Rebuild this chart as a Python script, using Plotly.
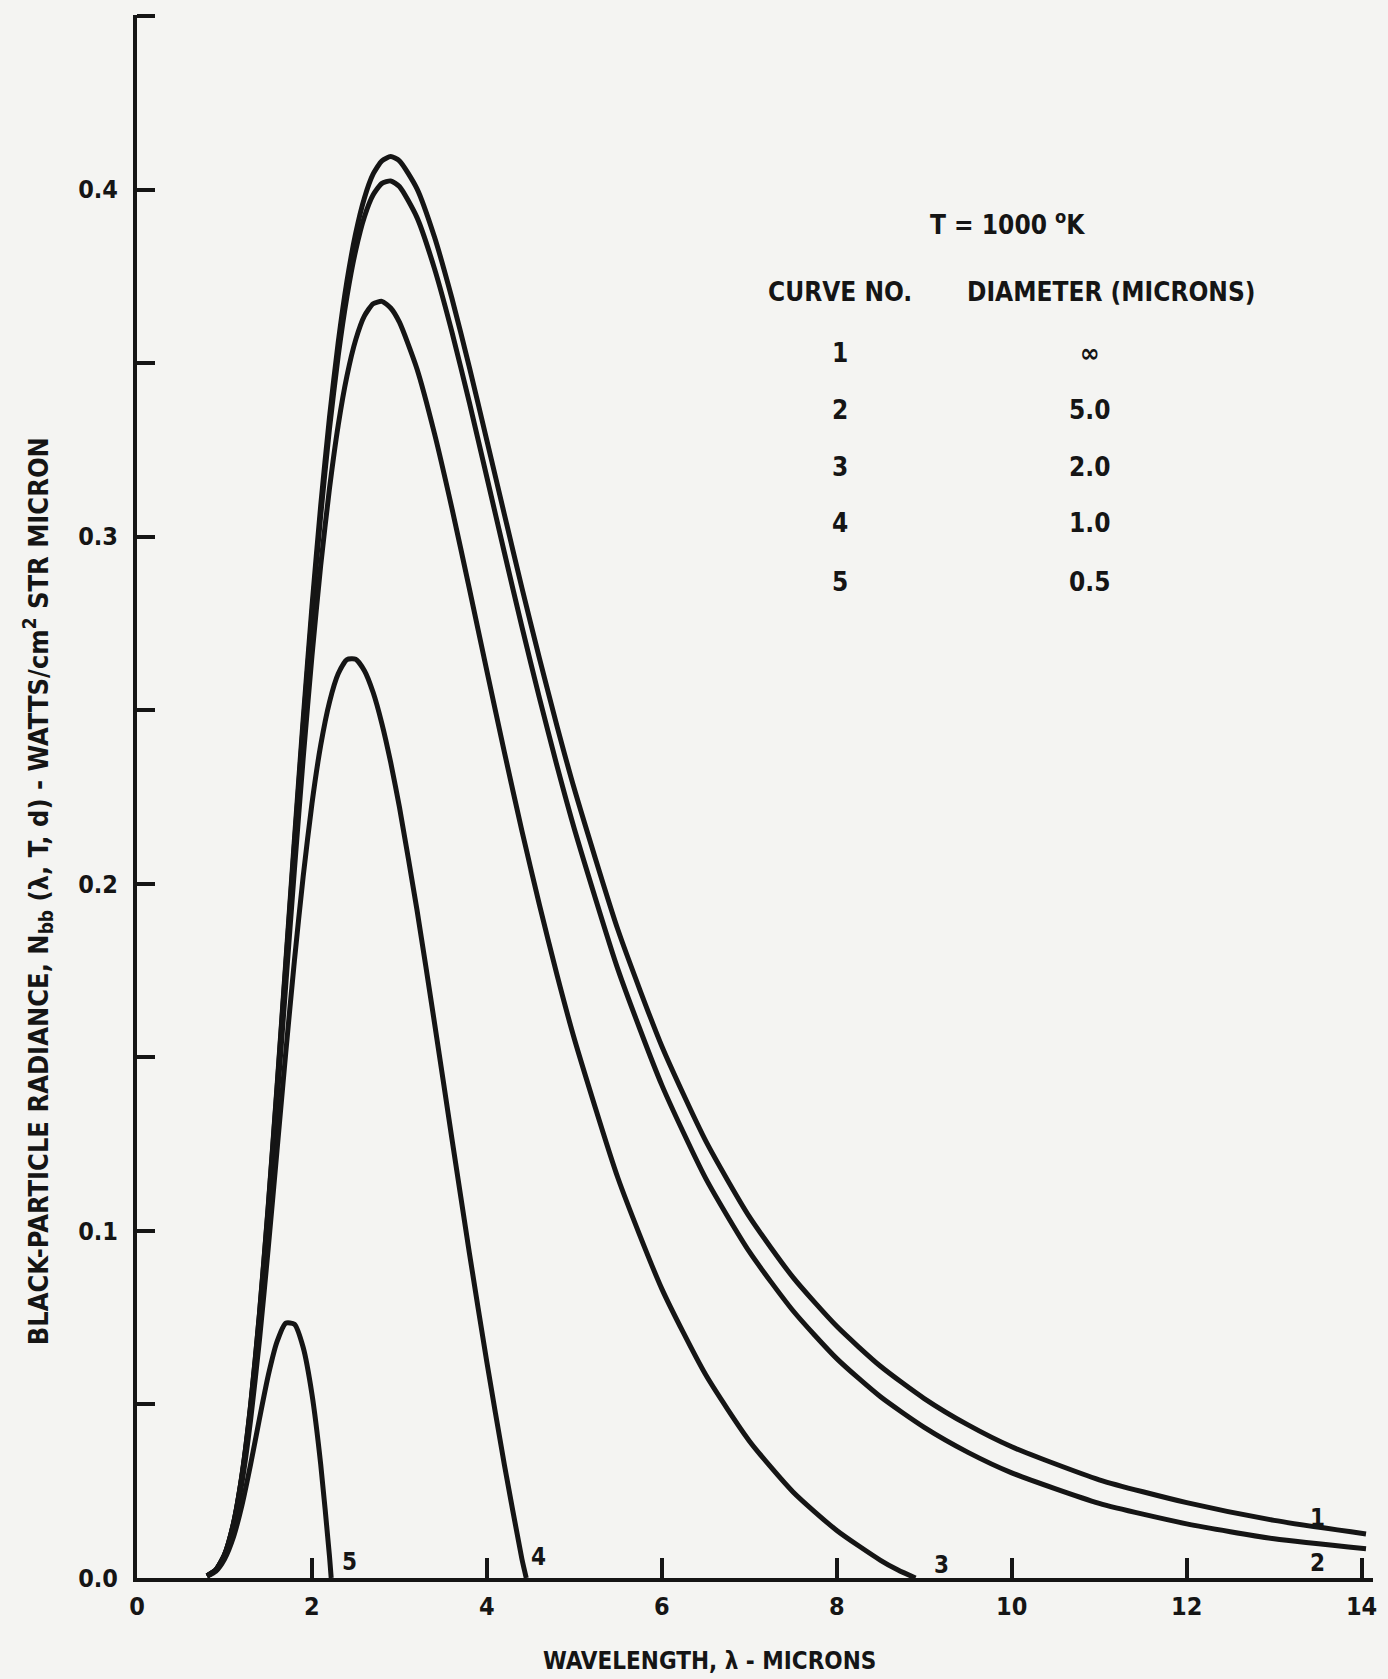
import plotly.graph_objects as go

# ---------------- data ----------------
# wavelength (microns) and black-particle radiance (W/cm^2 sr micron)
wl_12 = [0.8, 0.9, 1.0, 1.1, 1.2, 1.3, 1.4, 1.5, 1.6, 1.7, 1.8, 1.9, 2.0, 2.1, 2.2,
         2.3, 2.4, 2.5, 2.6, 2.7, 2.8, 2.9, 3.0, 3.2, 3.4, 3.6, 3.8, 4.0, 4.2, 4.4,
         4.6, 4.8, 5.0, 5.5, 6.0, 6.5, 7.0, 7.5, 8.0, 8.5, 9.0, 9.5, 10.0, 11.0,
         12.0, 13.0, 14.05]
curve1 = [0.0006, 0.0023, 0.0067, 0.0154, 0.0297, 0.0501, 0.0762, 0.1071, 0.1413,
          0.1771, 0.2129, 0.2475, 0.2798, 0.3089, 0.3343, 0.3559, 0.3736, 0.3874,
          0.3976, 0.4045, 0.4083, 0.4095, 0.4083, 0.4003, 0.3864, 0.3687, 0.3488,
          0.3277, 0.3064, 0.2853, 0.2650, 0.2456, 0.2273, 0.1866, 0.1532, 0.1260,
          0.1041, 0.0866, 0.0725, 0.0610, 0.0517, 0.0441, 0.0378, 0.0283, 0.0217,
          0.0166, 0.0127]
curve2 = [0.0006, 0.0023, 0.0067, 0.0154, 0.0296, 0.0499, 0.0759, 0.1066, 0.1406,
          0.1761, 0.2115, 0.2457, 0.2775, 0.3061, 0.3310, 0.3521, 0.3692, 0.3825,
          0.3922, 0.3985, 0.4018, 0.4025, 0.4009, 0.3920, 0.3773, 0.3590, 0.3386,
          0.3171, 0.2954, 0.2741, 0.2536, 0.2341, 0.2158, 0.1752, 0.1420, 0.1152,
          0.0940, 0.0770, 0.0632, 0.0522, 0.0434, 0.0362, 0.0303, 0.0215, 0.0156,
          0.0113, 0.0084]
wl_3 = [0.8, 0.9, 1.0, 1.1, 1.2, 1.3, 1.4, 1.5, 1.6, 1.7, 1.8, 1.9, 2.0, 2.1, 2.2,
        2.3, 2.4, 2.5, 2.6, 2.7, 2.8, 2.9, 3.0, 3.2, 3.4, 3.6, 3.8, 4.0, 4.2, 4.4,
        4.6, 4.8, 5.0, 5.5, 6.0, 6.5, 7.0, 7.5, 8.0, 8.5, 8.7, 8.9]
curve3 = [0.0006, 0.0023, 0.0066, 0.0152, 0.0292, 0.0490, 0.0743, 0.1040, 0.1367,
          0.1706, 0.2042, 0.2362, 0.2656, 0.2917, 0.3138, 0.3321, 0.3463, 0.3567,
          0.3636, 0.3671, 0.3678, 0.3659, 0.3618, 0.3484, 0.3298, 0.3082, 0.2850,
          0.2613, 0.2379, 0.2153, 0.1940, 0.1739, 0.1553, 0.1151, 0.0833, 0.0586,
          0.0395, 0.0248, 0.0137, 0.0051, 0.0023, 0.0]
wl_4 = [0.8, 0.9, 1.0, 1.1, 1.2, 1.3, 1.4, 1.5, 1.6, 1.7, 1.8, 1.9, 2.0, 2.1, 2.2,
        2.3, 2.4, 2.5, 2.6, 2.7, 2.8, 2.9, 3.0, 3.2, 3.4, 3.6, 3.8, 4.0, 4.2, 4.4,
        4.45]
curve4 = [0.0006, 0.0022, 0.0064, 0.0145, 0.0275, 0.0458, 0.0686, 0.0949, 0.1230,
          0.1512, 0.1780, 0.2022, 0.2231, 0.2399, 0.2523, 0.2605, 0.2646, 0.2647,
          0.2614, 0.2551, 0.2461, 0.2350, 0.2221, 0.1926, 0.1601, 0.1266, 0.0936,
          0.0621, 0.0326, 0.0055, 0.0]
wl_5 = [0.8, 0.9, 1.0, 1.1, 1.2, 1.3, 1.4, 1.5, 1.6, 1.7, 1.8, 1.9, 2.0, 2.1, 2.2,
        2.22]
curve5 = [0.0005, 0.0019, 0.0054, 0.0116, 0.0210, 0.0329, 0.0459, 0.0583, 0.0680,
          0.0734, 0.0731, 0.0664, 0.0530, 0.0328, 0.0064, 0.0]

curve_no = ["1", "2", "3", "4", "5"]
diameters = ["\u221e", "5.0", "2.0", "1.0", "0.5"]

x_tick_vals = [0, 2, 4, 6, 8, 10, 12, 14]
x_tick_text = ["0", "2", "4", "6", "8", "10", "12", "14"]
y_tick_vals = [0.0, 0.1, 0.2, 0.3, 0.4]
y_tick_text = ["0.0", "0.1", "0.2", "0.3", "0.4"]
y_minor_vals = [0.05, 0.15, 0.25, 0.35, 0.45]

# ---------------- styling ----------------
INK = "#151515"
BG = "#f4f4f2"
FONT = "DejaVu Sans Condensed, DejaVu Sans, sans-serif"

W, H = 1388, 1679
ML, MR, MT, MB = 137, 11, 15, 101
plot_w = W - ML - MR
plot_h = H - MT - MB
X_MAX = 14.13
Y_MAX = 0.4503


def px_x(px):
    return (px - ML) / plot_w


def px_y(py):
    return (H - MB - py) / plot_h


def bold(size):
    return dict(family=FONT, size=size, color=INK, weight="bold")


fig = go.Figure()
for xs, ys in [(wl_12, curve1), (wl_12, curve2), (wl_3, curve3), (wl_4, curve4), (wl_5, curve5)]:
    fig.add_trace(go.Scatter(
        x=xs, y=ys, mode="lines",
        line=dict(color=INK, width=5, shape="spline", smoothing=0.6),
        hoverinfo="skip", showlegend=False,
    ))

annotations = []

# curve labels near the baseline / tail
label_pos = [(13.49, 0.0173), (13.50, 0.0043), (9.20, 0.0037), (4.59, 0.0061), (2.43, 0.0047)]
for lab, (lx, ly) in zip(curve_no, label_pos):
    annotations.append(dict(x=lx, y=ly, xref="x", yref="y", text=lab, showarrow=False,
                            font=bold(24), xanchor="center", yanchor="middle"))

# key table
TF = 26
annotations.append(dict(x=px_x(1010), y=px_y(223), xref="paper", yref="paper",
                        text="T = 1000 <sup>o</sup>K", showarrow=False, font=bold(TF),
                        xanchor="center", yanchor="middle"))
annotations.append(dict(x=px_x(842), y=px_y(292), xref="paper", yref="paper",
                        text="CURVE NO.", showarrow=False, font=bold(TF),
                        xanchor="center", yanchor="middle"))
annotations.append(dict(x=px_x(1114), y=px_y(292), xref="paper", yref="paper",
                        text="DIAMETER (MICRONS)", showarrow=False, font=bold(TF),
                        xanchor="center", yanchor="middle"))
row_y = [353, 410, 467, 523, 582]
for cn, dm, ry in zip(curve_no, diameters, row_y):
    annotations.append(dict(x=px_x(842), y=px_y(ry), xref="paper", yref="paper",
                            text=cn, showarrow=False, font=bold(TF),
                            xanchor="center", yanchor="middle"))
    annotations.append(dict(x=px_x(1093), y=px_y(ry), xref="paper", yref="paper",
                            text=dm, showarrow=False, font=bold(TF),
                            xanchor="center", yanchor="middle"))

# axis titles
annotations.append(dict(x=px_x(711), y=px_y(1661), xref="paper", yref="paper",
                        text="WAVELENGTH, \u03bb - MICRONS", showarrow=False, font=bold(24),
                        xanchor="center", yanchor="middle"))
annotations.append(dict(x=px_x(37), y=px_y(891), xref="paper", yref="paper",
                        text="BLACK-PARTICLE RADIANCE, N<sub>bb</sub> (\u03bb, T, d) - WATTS/cm<sup>2</sup> STR MICRON",
                        textangle=-90, showarrow=False, font=bold(27),
                        xanchor="center", yanchor="middle"))

fig.update_layout(
    width=W, height=H,
    margin=dict(l=ML, r=MR, t=MT, b=MB, pad=0),
    paper_bgcolor=BG, plot_bgcolor=BG,
    annotations=annotations,
    font=dict(family=FONT, color=INK),
)
fig.update_xaxes(
    range=[0, X_MAX], showgrid=False, zeroline=False,
    showline=True, linecolor=INK, linewidth=4,
    tickmode="array", tickvals=x_tick_vals, ticktext=x_tick_text,
    ticks="inside", ticklen=20, tickwidth=4, tickcolor=INK,
    tickfont=bold(25), ticklabelstandoff=3,
)
fig.update_yaxes(
    range=[0, Y_MAX], showgrid=False, zeroline=False,
    showline=True, linecolor=INK, linewidth=4,
    tickmode="array", tickvals=y_tick_vals, ticktext=y_tick_text,
    ticks="inside", ticklen=18, tickwidth=4, tickcolor=INK,
    minor=dict(tickvals=y_minor_vals, ticks="inside", ticklen=18, tickwidth=4,
               tickcolor=INK, showgrid=False),
    tickfont=bold(25), ticklabelstandoff=10,
)

fig.write_html(
    "out.html",
    config={"displayModeBar": False},
    post_script="document.body.style.margin='0';document.body.style.background='%s';" % BG,
)
